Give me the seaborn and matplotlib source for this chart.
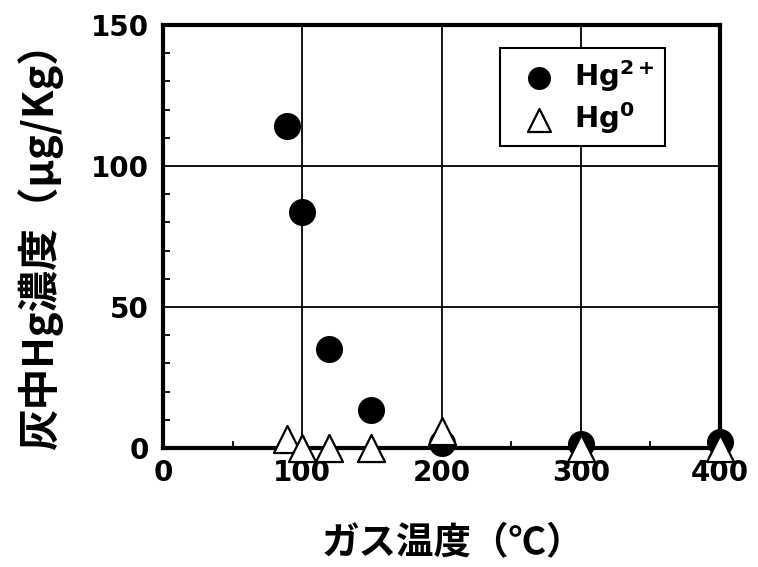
import matplotlib
matplotlib.use("Agg")
import matplotlib.pyplot as plt
from matplotlib.ticker import MultipleLocator
import pandas as pd
import seaborn as sns

# Gas temperature (°C) and mercury concentration in ash (µg/kg)
gas_temp = [89, 100, 119, 149, 200, 300, 400]
hg2_conc = [114, 83.5, 35.2, 13.4, 1.8, 1.5, 2.0]
hg0_conc = [3.0, 0.1, 0.1, 0.1, 6.0, 0.1, 0.1]

x_ticks = [0, 100, 200, 300, 400]
y_ticks = [0, 50, 100, 150]

sns.set_theme(style="white")
plt.rcParams["font.family"] = ["DejaVu Sans", "Noto Sans CJK JP"]
plt.rcParams["text.color"] = "black"
plt.rcParams["axes.labelcolor"] = "black"
plt.rcParams["xtick.color"] = "black"
plt.rcParams["ytick.color"] = "black"
plt.rcParams["mathtext.fontset"] = "custom"
plt.rcParams["mathtext.bf"] = "DejaVu Sans:bold"
plt.rcParams["mathtext.rm"] = "DejaVu Sans:bold"
plt.rcParams["mathtext.default"] = "bf"

df_hg2 = pd.DataFrame({"temp": gas_temp, "conc": hg2_conc})
df_hg0 = pd.DataFrame({"temp": gas_temp, "conc": hg0_conc})

fig = plt.figure(figsize=(7.58, 5.67), dpi=100)
ax = fig.add_axes([0.215, 0.21, 0.735, 0.746])

sns.scatterplot(data=df_hg2, x="temp", y="conc", ax=ax, marker="o", s=380,
                color="black", edgecolor="black", linewidth=0,
                label="Hg$^{2+}$", zorder=4, clip_on=False)
sns.scatterplot(data=df_hg0, x="temp", y="conc", ax=ax, marker="^", s=380,
                facecolor="white", edgecolor="black", linewidth=1.6,
                label="Hg$^{0}$", zorder=5, clip_on=False)

ax.set_xlim(0, 400)
ax.set_ylim(0, 150)
ax.set_xticks(x_ticks)
ax.set_yticks(y_ticks)
ax.xaxis.set_minor_locator(MultipleLocator(50))
ax.yaxis.set_minor_locator(MultipleLocator(10))

ax.grid(False)
for v in x_ticks[1:-1]:
    ax.axvline(v, color="black", lw=1.3, zorder=1)
for v in y_ticks[1:-1]:
    ax.axhline(v, color="black", lw=1.3, zorder=1)

for sp in ax.spines.values():
    sp.set_visible(True)
    sp.set_color("black")
    sp.set_linewidth(3)

ax.tick_params(axis="both", which="major", direction="in", length=0,
               labelsize=20, colors="black", labelcolor="black")
ax.tick_params(axis="x", which="major", pad=8)
ax.tick_params(axis="y", which="major", pad=10)
ax.tick_params(axis="both", which="minor", direction="in", length=5,
               width=1.3, color="black")
ax.tick_params(axis="y", which="minor", left=True, right=False)
ax.tick_params(axis="x", which="minor", bottom=True, top=False)
for lab in ax.get_xticklabels() + ax.get_yticklabels():
    lab.set_fontweight("bold")

ax.set_xlabel("ガス温度（℃）", fontsize=27, fontweight="bold", color="black",
              family=["Noto Sans CJK JP", "DejaVu Sans"], labelpad=26)
ax.xaxis.label.set_x(0.52)
ax.set_ylabel("灰中Hg濃度（μg/Kg）", fontsize=30, fontweight="bold", color="black",
              family=["Noto Sans CJK JP", "DejaVu Sans"], labelpad=20)

leg = ax.legend(loc="upper right", bbox_to_anchor=(0.901, 0.946),
                frameon=True, fancybox=False, edgecolor="black", framealpha=1,
                prop={"size": 21, "weight": "bold"}, markerscale=0.85,
                handletextpad=0.2, borderpad=0.35, labelspacing=0.2,
                handlelength=2.0, borderaxespad=0)
leg.get_frame().set_linewidth(1.5)
for t in leg.get_texts():
    t.set_color("black")
leg.set_zorder(6)

fig.savefig("out.png", dpi=100, facecolor="white")
